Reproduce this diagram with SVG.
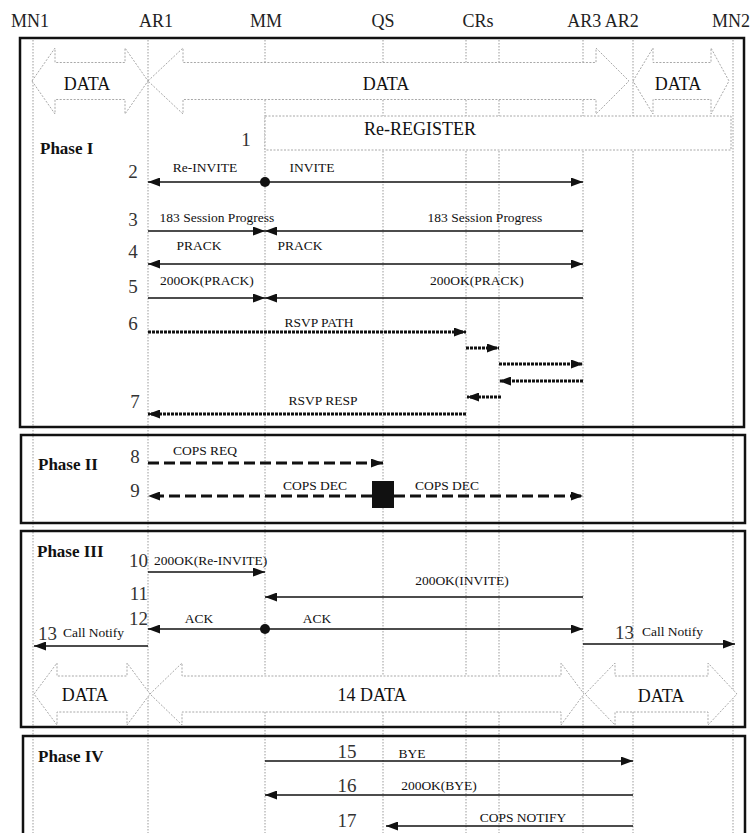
<svg xmlns="http://www.w3.org/2000/svg" width="756" height="833" viewBox="0 0 756 833">
<style>
text{font-family:"Liberation Serif","Times New Roman",serif;fill:#111}
.hdr{font-size:18px;text-anchor:middle;fill:#222}
.num{font-size:19px;fill:#333}
.lbl{font-size:13.5px}
.ph{font-size:17px;font-weight:bold}
.big{font-size:18px;text-anchor:middle}
.mid{text-anchor:middle}
.life{stroke:#9a9a9a;stroke-width:1;stroke-dasharray:1.5 1.5;fill:none}
.frame{stroke:#111;stroke-width:2.5;fill:none}
.data{fill:#fff;stroke:#a8a8a8;stroke-width:1;stroke-dasharray:2 1.5}
.box{fill:#fff;stroke:#a8a8a8;stroke-width:1;stroke-dasharray:2 1.5}
.msg{stroke:#111;stroke-width:1.6;fill:none}
.rsvp{stroke:#111;stroke-width:3;stroke-dasharray:3 1;fill:none}
.cops{stroke:#111;stroke-width:3;stroke-dasharray:11 5;fill:none}
</style>
<defs>
<marker id="ah" markerUnits="userSpaceOnUse" markerWidth="12" markerHeight="9" refX="12" refY="4.5" orient="auto-start-reverse">
<path d="M0,0 L12,4.5 L0,9 z" fill="#111"/>
</marker>
</defs>
<rect width="756" height="833" fill="#fff"/>

<g id="lifelines">
<g id="MN1"><line class="life" x1="33" y1="40" x2="33" y2="833"/></g>
<g id="AR1"><line class="life" x1="148" y1="40" x2="148" y2="833"/></g>
<g id="MM"><line class="life" x1="265" y1="40" x2="265" y2="833"/></g>
<g id="QS"><line class="life" x1="383" y1="40" x2="383" y2="833"/></g>
<g id="CR1"><line class="life" x1="466" y1="40" x2="466" y2="833"/></g>
<g id="CR2"><line class="life" x1="499" y1="40" x2="499" y2="833"/></g>
<g id="AR3"><line class="life" x1="583" y1="40" x2="583" y2="833"/></g>
<g id="AR2"><line class="life" x1="633" y1="40" x2="633" y2="833"/></g>
<g id="MN2"><line class="life" x1="733" y1="40" x2="733" y2="833"/></g>
</g>

<g id="headers">
<text class="hdr" x="30" y="27">MN1</text>
<text class="hdr" x="156" y="27">AR1</text>
<text class="hdr" x="266" y="27">MM</text>
<text class="hdr" x="383" y="27">QS</text>
<text class="hdr" x="478" y="27">CRs</text>
<text class="hdr" x="603" y="27">AR3 AR2</text>
<text class="hdr" x="731" y="27">MN2</text>
</g>

<g id="frames">
<g id="phase1"><rect class="frame" x="20" y="38" width="724" height="389"/><text class="ph" x="40" y="154">Phase I</text></g>
<g id="phase2"><rect class="frame" x="21" y="435" width="724" height="88"/><text class="ph" x="38" y="470">Phase II</text></g>
<g id="phase3"><rect class="frame" x="21" y="531" width="724" height="196"/><text class="ph" x="37" y="557">Phase III</text></g>
<g id="phase4"><path class="frame" d="M23,834 V736 H745 V834"/><text class="ph" x="38" y="762">Phase IV</text></g>
</g>

<g id="data-top">
<g id="data1"><polygon class="data" points="32,81 55,48 55,62.5 125,62.5 125,48 148,81 125,114 125,99.5 55,99.5 55,114"/><text class="big" x="87" y="90">DATA</text></g>
<g id="data2"><polygon class="data" points="148,81 183,48 183,62.5 596,62.5 596,48 629,81 596,114 596,99.5 183,99.5 183,114"/><text class="big" x="386" y="90">DATA</text></g>
<g id="data3"><polygon class="data" points="633,81 653,48 653,62.5 711,62.5 711,48 729,81 711,114 711,99.5 653,99.5 653,114"/><text class="big" x="678" y="90">DATA</text></g>
</g>

<g id="reregister"><rect class="box" x="265" y="116" width="466" height="34"/><text class="big" x="420" y="135">Re-REGISTER</text><text class="num" x="246" y="146" text-anchor="middle">1</text></g>

<g id="data-bottom">
<g id="data4"><polygon class="data" points="34,694 57,663 57,676 127,676 127,663 150,694 127,725 127,712 57,712 57,725"/><text class="big" x="85" y="701">DATA</text></g>
<g id="data5"><polygon class="data" points="150,694 182,663 182,676 561,676 561,663 584,694 561,725 561,712 182,712 182,725"/><text class="big" x="372" y="701">14 DATA</text></g>
<g id="data6"><polygon class="data" points="585,694 615,663 615,676 708,676 708,663 737,694 708,725 708,712 615,712 615,725"/><text class="big" x="661" y="702">DATA</text></g>
</g>

<g id="connectors">
<line class="msg" x1="265" y1="182" x2="148" y2="182" marker-end="url(#ah)"/>
<line class="msg" x1="265" y1="182" x2="583" y2="182" marker-end="url(#ah)"/>
<circle cx="265" cy="182" r="5" fill="#111"/>
<line class="msg" x1="148" y1="231" x2="265" y2="231" marker-end="url(#ah)"/>
<line class="msg" x1="583" y1="231" x2="265" y2="231" marker-end="url(#ah)"/>
<line class="msg" x1="148" y1="264" x2="583" y2="264" marker-start="url(#ah)" marker-end="url(#ah)"/>
<line class="msg" x1="148" y1="298" x2="265" y2="298" marker-end="url(#ah)"/>
<line class="msg" x1="583" y1="298" x2="265" y2="298" marker-end="url(#ah)"/>
<line class="rsvp" x1="148" y1="332" x2="466" y2="332" marker-end="url(#ah)"/>
<line class="rsvp" x1="466" y1="348" x2="499" y2="348" marker-end="url(#ah)"/>
<line class="rsvp" x1="499" y1="364" x2="583" y2="364" marker-end="url(#ah)"/>
<line class="rsvp" x1="583" y1="381" x2="499" y2="381" marker-end="url(#ah)"/>
<line class="rsvp" x1="501" y1="397" x2="467" y2="397" marker-end="url(#ah)"/>
<line class="rsvp" x1="466" y1="414" x2="148" y2="414" marker-end="url(#ah)"/>
<line class="cops" x1="148" y1="463" x2="383" y2="463" marker-end="url(#ah)"/>
<line class="cops" x1="372" y1="496" x2="148" y2="496" marker-end="url(#ah)"/>
<line class="cops" x1="394" y1="496" x2="583" y2="496" marker-end="url(#ah)"/>
<rect x="372" y="481" width="22" height="27" fill="#111"/>
<line class="msg" x1="148" y1="572" x2="265" y2="572" marker-end="url(#ah)"/>
<line class="msg" x1="583" y1="597" x2="265" y2="597" marker-end="url(#ah)"/>
<line class="msg" x1="265" y1="629" x2="148" y2="629" marker-end="url(#ah)"/>
<line class="msg" x1="265" y1="629" x2="583" y2="629" marker-end="url(#ah)"/>
<circle cx="265" cy="629" r="5" fill="#111"/>
<line class="msg" x1="148" y1="646" x2="34" y2="646" marker-end="url(#ah)"/>
<line class="msg" x1="583" y1="644" x2="735" y2="644" marker-end="url(#ah)"/>
<line class="msg" x1="265" y1="761" x2="633" y2="761" marker-end="url(#ah)"/>
<line class="msg" x1="633" y1="795" x2="265" y2="795" marker-end="url(#ah)"/>
<line class="msg" x1="633" y1="826" x2="386" y2="826" marker-end="url(#ah)"/>
</g>

<g id="labels">
<text class="num" x="133" y="178" text-anchor="middle">2</text>
<text class="lbl mid" x="205" y="172">Re-INVITE</text>
<text class="lbl mid" x="312" y="172">INVITE</text>
<text class="num" x="133" y="226" text-anchor="middle">3</text>
<text class="lbl mid" x="217" y="222">183 Session Progress</text>
<text class="lbl mid" x="485" y="222">183 Session Progress</text>
<text class="num" x="133" y="258" text-anchor="middle">4</text>
<text class="lbl mid" x="199" y="250">PRACK</text>
<text class="lbl mid" x="300" y="250">PRACK</text>
<text class="num" x="133" y="293" text-anchor="middle">5</text>
<text class="lbl mid" x="207" y="285">200OK(PRACK)</text>
<text class="lbl mid" x="477" y="285">200OK(PRACK)</text>
<text class="num" x="133" y="330" text-anchor="middle">6</text>
<text class="lbl mid" x="319" y="327">RSVP PATH</text>
<text class="num" x="135" y="408" text-anchor="middle">7</text>
<text class="lbl mid" x="323" y="405">RSVP RESP</text>
<text class="num" x="135" y="463" text-anchor="middle">8</text>
<text class="lbl mid" x="205" y="455">COPS REQ</text>
<text class="num" x="135" y="497" text-anchor="middle">9</text>
<text class="lbl mid" x="315" y="490">COPS DEC</text>
<text class="lbl mid" x="447" y="490">COPS DEC</text>
<text class="num" x="148" y="567" text-anchor="end">10</text>
<text class="lbl" x="154" y="565">200OK(Re-INVITE)</text>
<text class="num" x="148" y="600" text-anchor="end">11</text>
<text class="lbl mid" x="462" y="585">200OK(INVITE)</text>
<text class="num" x="148" y="625" text-anchor="end">12</text>
<text class="lbl mid" x="199" y="623">ACK</text>
<text class="lbl mid" x="317" y="623">ACK</text>
<text class="num" x="38" y="640">13</text>
<text class="lbl" x="63" y="637">Call Notify</text>
<text class="num" x="615" y="639">13</text>
<text class="lbl" x="642" y="636">Call Notify</text>
<text class="num" x="347" y="758" text-anchor="middle">15</text>
<text class="lbl mid" x="412" y="758">BYE</text>
<text class="num" x="347" y="792" text-anchor="middle">16</text>
<text class="lbl mid" x="439" y="790">200OK(BYE)</text>
<text class="num" x="347" y="827" text-anchor="middle">17</text>
<text class="lbl mid" x="523" y="822">COPS NOTIFY</text>
</g>
</svg>
